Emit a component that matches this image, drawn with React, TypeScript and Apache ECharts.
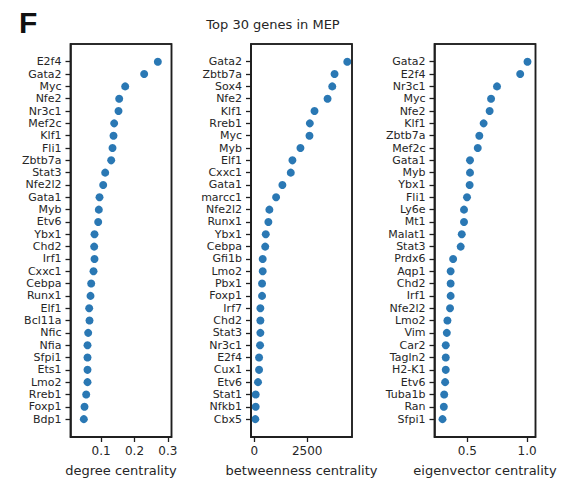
import React, { useEffect, useRef } from "react";
import * as echarts from "echarts";

const degreeGenes = ["E2f4","Gata2","Myc","Nfe2","Nr3c1","Mef2c","Klf1","Fli1","Zbtb7a","Stat3","Nfe2l2","Gata1","Myb","Etv6","Ybx1","Chd2","Irf1","Cxxc1","Cebpa","Runx1","Elf1","Bcl11a","Nfic","Nfia","Sfpi1","Ets1","Lmo2","Rreb1","Foxp1","Bdp1"];
const degreeValues = [0.270,0.229,0.172,0.154,0.152,0.139,0.137,0.134,0.130,0.112,0.106,0.095,0.093,0.091,0.080,0.079,0.080,0.077,0.070,0.068,0.064,0.065,0.061,0.059,0.059,0.059,0.059,0.055,0.050,0.048];

const betweenGenes = ["Gata2","Zbtb7a","Sox4","Nfe2","Klf1","Rreb1","Myc","Myb","Elf1","Cxxc1","Gata1","marcc1","Nfe2l2","Runx1","Ybx1","Cebpa","Gfi1b","Lmo2","Pbx1","Foxp1","Irf7","Chd2","Stat3","Nr3c1","E2f4","Cux1","Etv6","Stat1","Nfkb1","Cbx5"];
const betweenValues = [4394,3792,3683,3462,2845,2624,2607,2180,1801,1723,1327,1029,711,664,540,515,396,396,365,365,286,286,286,270,223,223,175,64,64,48];

const eigenGenes = ["Gata2","E2f4","Nr3c1","Myc","Nfe2","Klf1","Zbtb7a","Mef2c","Gata1","Myb","Ybx1","Fli1","Ly6e","Mt1","Malat1","Stat3","Prdx6","Aqp1","Chd2","Irf1","Nfe2l2","Lmo2","Vim","Car2","Tagln2","H2-K1","Etv6","Tuba1b","Ran","Sfpi1"];
const eigenValues = [1.003,0.942,0.748,0.698,0.686,0.636,0.600,0.587,0.522,0.522,0.519,0.497,0.472,0.472,0.453,0.444,0.381,0.360,0.360,0.360,0.355,0.333,0.328,0.319,0.319,0.319,0.314,0.306,0.303,0.292];

const degreeTicks = [0.1, 0.2, 0.3];
const betweenTicks = [0, 2500];
const eigenTicks = [0.5, 1.0];

const title = "Top 30 genes in MEP";
const panelLetter = "F";

const FONT = "DejaVu Sans";
const TEXT = "#262626";
const DOT = "#2a78b4";
const FRAME = "#1e1e1e";
const LW = 1.5;

export default function App() {
  const ref = useRef<HTMLDivElement>(null);
  useEffect(() => {
    if (!ref.current) return;
    const chart = echarts.init(ref.current, null, { renderer: "svg" });
    const top = 44;
    const height = 393;
    const panels = [
      { genes: degreeGenes, values: degreeValues, ticks: degreeTicks, name: "degree centrality", min: 0.008, max: 0.311, left: 70.5, width: 101, fmt: (v: number) => v.toFixed(1) },
      { genes: betweenGenes, values: betweenValues, ticks: betweenTicks, name: "betweenness centrality", min: -157, max: 4617, left: 251, width: 101, fmt: (v: number) => String(v) },
      { genes: eigenGenes, values: eigenValues, ticks: eigenTicks, name: "eigenvector centrality", min: 0.225, max: 1.07, left: 434.5, width: 101, fmt: (v: number) => v.toFixed(1) },
    ];
    const idx = Array.from({ length: 30 }, (_, i) => i);
    const option: any = {
      animation: false,
      backgroundColor: "#ffffff",
      title: [
        { text: title, left: 268, top: 13, textAlign: "center", textStyle: { fontFamily: FONT, fontSize: 13, fontWeight: "normal", color: TEXT } },
        { text: panelLetter, left: 14, top: 2, textStyle: { fontFamily: "Liberation Sans", fontSize: 30, fontWeight: "bold", color: "#111" } },
      ],
      graphic: panels.map((p) => ({
        type: "rect", z: 100, silent: true,
        shape: { x: p.left, y: top, width: p.width, height: height },
        style: { fill: "rgba(0,0,0,0)", stroke: FRAME, lineWidth: LW },
      })),
      grid: panels.map((p) => ({ left: p.left, width: p.width, top: top, height: height, show: true, backgroundColor: "rgba(0,0,0,0)", borderColor: FRAME, borderWidth: LW, containLabel: false, outerBoundsMode: "none" })),
      xAxis: panels.map((p, i) => ({
        type: "value", gridIndex: i, min: p.min, max: p.max, position: "bottom",
        name: p.name, nameLocation: "middle", nameGap: 27,
        nameTextStyle: { fontFamily: FONT, fontSize: 13, color: TEXT },
        axisLine: { show: true, onZero: false, lineStyle: { color: FRAME, width: LW } },
        axisTick: { show: true, length: 5, lineStyle: { color: FRAME, width: 1.3 }, customValues: p.ticks },
        axisLabel: { fontFamily: FONT, fontSize: 12, color: TEXT, margin: 8, customValues: p.ticks, formatter: p.fmt },
        splitLine: { show: false },
      })),
      yAxis: panels.map((p, i) => ({
        type: "value", gridIndex: i, inverse: true, min: -1.44, max: 30.45, position: "left",
        axisLine: { show: true, onZero: false, lineStyle: { color: FRAME, width: LW } },
        axisTick: { show: true, length: 5, lineStyle: { color: FRAME, width: 1.3 }, customValues: idx },
        axisLabel: { fontFamily: FONT, fontSize: 11, lineHeight: 11, color: TEXT, margin: 9, customValues: idx, formatter: (v: number) => p.genes[Math.round(v)] ?? "" },
        splitLine: { show: false },
      })),
      series: panels.map((p, i) => ({
        type: "scatter", xAxisIndex: i, yAxisIndex: i, symbolSize: 8,
        itemStyle: { color: DOT, opacity: 1 },
        data: p.values.map((v, j) => [v, j]),
      })),
    };
    chart.setOption(option);
    return () => chart.dispose();
  }, []);
  return <div ref={ref} style={{ position: "fixed", left: 0, top: 0, width: 561, height: 480 }} />;
}
